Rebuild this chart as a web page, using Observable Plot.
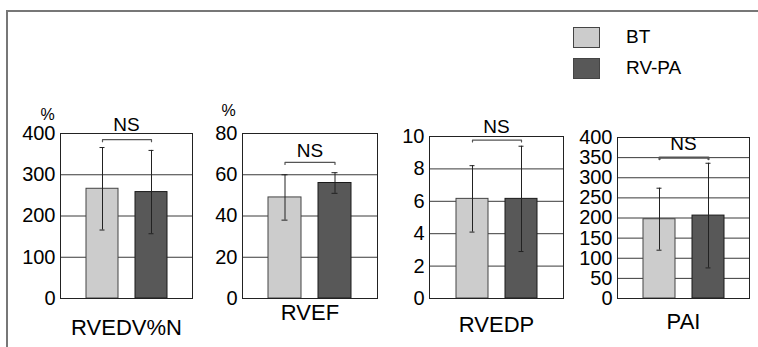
<!DOCTYPE html>
<html>
<head>
<meta charset="utf-8">
<script src="https://cdn.jsdelivr.net/npm/d3@7"></script>
<script src="https://cdn.jsdelivr.net/npm/@observablehq/plot@0.6"></script>
<style>
  html, body { margin: 0; padding: 0; background: #fff; }
  #wrap { position: relative; width: 758px; height: 347px; overflow: hidden; background: #fff; font-family: "Liberation Sans", Arial, sans-serif; }
  .line { position: absolute; background: #777; }
  .panel { position: absolute; top: 90px; }
  .lg-box { position: absolute; left: 573px; width: 25px; height: 19px; border: 1px solid #444; }
  .lg-text { position: absolute; left: 626px; font-size: 19px; line-height: 20px; color: #000; }
</style>
</head>
<body>
<div id="wrap">
  <div class="line" style="left:6px;top:10px;width:752px;height:2px;"></div>
  <div class="line" style="left:6px;top:10px;width:2px;height:337px;"></div>
</div>
<script>
// ---- data ----
const panelNames = ["RVEDV%N", "RVEF", "RVEDP", "PAI"];
const groups = ["BT", "RV-PA"];
const btMean = [266, 49, 6.15, 197];
const btSD = [100, 11, 2.05, 77];
const rvpaMean = [258, 56, 6.15, 206];
const rvpaSD = [101, 5, 3.25, 130];
const yMax = [400, 80, 10, 400];
const yTickStep = [100, 20, 2, 50];
const unitLabels = ["%", "%", "", ""];
const sigLabels = ["NS", "NS", "NS", "NS"];
const bracketY = [385, 66, 9.78, 350];
const bracketDrop = [5, 1, 0.12, 4];

// ---- layout (positions/styles) ----
const layout = [
  {left: 0,   width: 200, mL: 60, mR: 8,  mT: 43, labelDy: 29, unitDx: -13, unitDy: -19, nsDy: -15, bracketW: 1.2},
  {left: 200, width: 185, mL: 42, mR: 8,  mT: 43, labelDy: 14, unitDx: -14, unitDy: -23, nsDy: -11, bracketW: 1.2},
  {left: 385, width: 188, mL: 44, mR: 10, mT: 46, labelDy: 26, unitDx: 0,   unitDy: 0,   nsDy: -13, bracketW: 1.2},
  {left: 573, width: 185, mL: 44, mR: 9,  mT: 47, labelDy: 23, unitDx: 0,   unitDy: 0,   nsDy: -14, bracketW: 2.2}
];
const colors = {"BT": "#cccccc", "RV-PA": "#585858"};
const strokes = {"BT": "#444444", "RV-PA": "#1a1a1a"};

const wrap = document.getElementById("wrap");
const H = 257;

panelNames.forEach((name, i) => {
  const L = layout[i];
  const data = [
    {group: groups[0], mean: btMean[i], sd: btSD[i]},
    {group: groups[1], mean: rvpaMean[i], sd: rvpaSD[i]}
  ];
  const ticks = d3.range(0, yMax[i] + yTickStep[i] / 2, yTickStep[i]);
  const grid = ticks.filter(t => t > 0 && t < yMax[i]);
  const bY = bracketY[i], bD = bracketDrop[i];
  const bracket = [
    {group: groups[0], y: bY - bD},
    {group: groups[0], y: bY},
    {group: groups[1], y: bY},
    {group: groups[1], y: bY - bD}
  ];
  const marks = [
    Plot.ruleY(grid, {stroke: "#3a3a3a", strokeWidth: 1}),
    Plot.barY(data, {x: "group", y: "mean", fill: d => colors[d.group], stroke: d => strokes[d.group], strokeWidth: 1}),
    Plot.ruleX(data, {x: "group", y1: d => d.mean - d.sd, y2: d => d.mean + d.sd, stroke: "#222", strokeWidth: 1}),
    Plot.tickY(data, {x: "group", y: d => d.mean + d.sd, stroke: "#222", insetLeft: 13.5, insetRight: 13.5}),
    Plot.tickY(data, {x: "group", y: d => d.mean - d.sd, stroke: "#222", insetLeft: 13.5, insetRight: 13.5}),
    Plot.line(bracket, {x: "group", y: "y", stroke: "#555", strokeWidth: L.bracketW}),
    Plot.text([sigLabels[i]], {y: () => bY, frameAnchor: "middle", dy: L.nsDy, text: d => d, fontSize: 19, fill: "#000", lineAnchor: "middle"}),
    Plot.frame({stroke: "#222", strokeWidth: 1}),
    Plot.axisY({ticks, tickSize: 0, tickPadding: 5, fontSize: 20, label: null, tickFormat: d3.format("d")}),
    Plot.text([name], {frameAnchor: "bottom", dy: L.labelDy, text: d => d, fontSize: 22, fill: "#000", lineAnchor: "middle"})
  ];
  if (unitLabels[i]) {
    marks.push(Plot.text([unitLabels[i]], {frameAnchor: "top-left", dx: L.unitDx, dy: L.unitDy, text: d => d, fontSize: 16, fill: "#000", textAnchor: "middle", lineAnchor: "middle"}));
  }
  const chart = Plot.plot({
    width: L.width,
    height: H,
    marginLeft: L.mL,
    marginRight: L.mR,
    marginTop: L.mT,
    marginBottom: 49,
    style: {background: "transparent", fontFamily: "'Liberation Sans', Arial, sans-serif", color: "#000", overflow: "visible"},
    x: {domain: groups, paddingInner: 0.35, paddingOuter: 0.52, axis: null},
    y: {domain: [0, yMax[i]], axis: null},
    marks
  });
  const wrapper = document.createElement("div");
  wrapper.className = "panel";
  wrapper.style.left = L.left + "px";
  wrapper.appendChild(chart);
  wrap.appendChild(wrapper);
});

// legend
groups.forEach((g, k) => {
  const box = document.createElement("div");
  box.className = "lg-box";
  box.style.top = (k === 0 ? 27 : 58) + "px";
  box.style.background = colors[g];
  wrap.appendChild(box);
  const t = document.createElement("div");
  t.className = "lg-text";
  t.style.top = (k === 0 ? 27 : 58) + "px";
  t.textContent = g;
  wrap.appendChild(t);
});
</script>
</body>
</html>
